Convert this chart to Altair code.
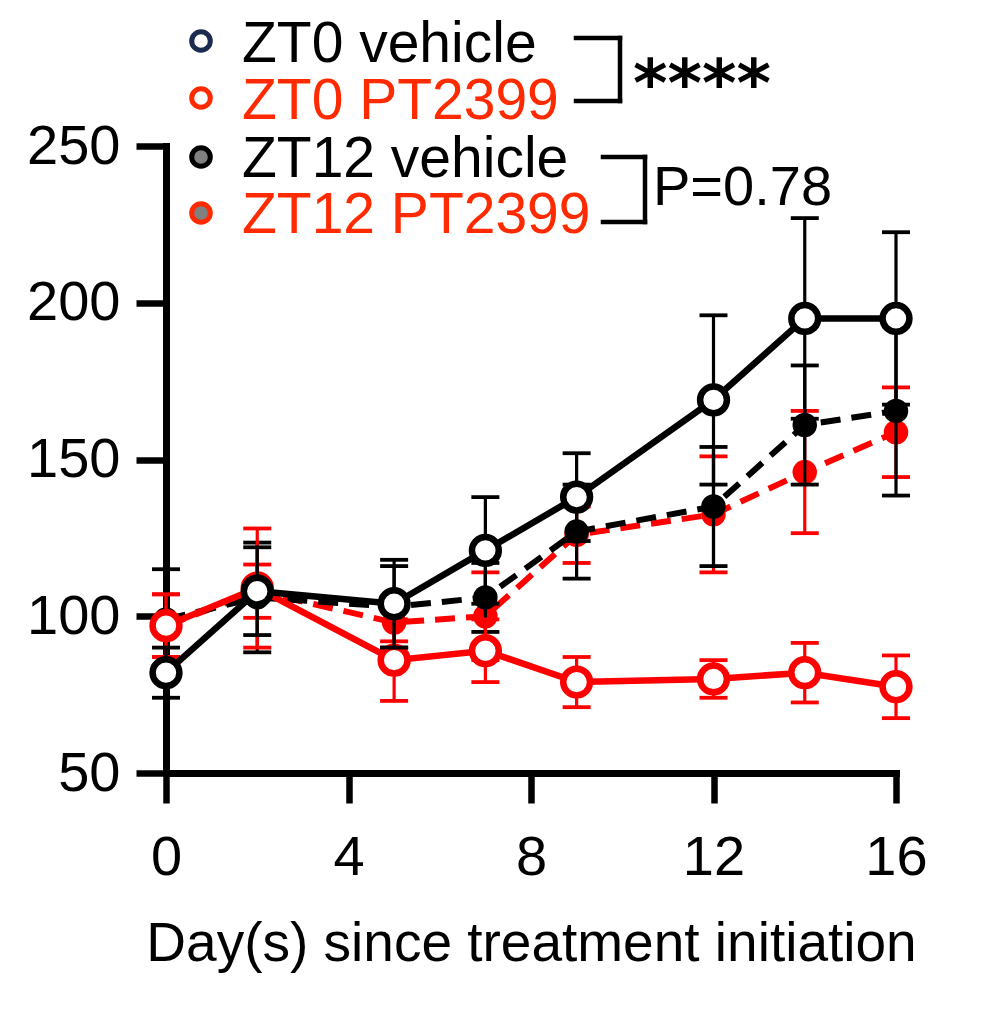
import altair as alt
import pandas as pd

# ---------------- data ----------------
days = [0, 2, 5, 7, 9, 12, 14, 16]

zt0_veh_mean = [82, 108, 104, 121, 138, 169, 195, 195]
zt0_veh_sem = [8, 14, 14, 17, 14, 27, 32, 27.5]

zt0_pt_mean = [97, 109, 86, 89, 79, 80, 82, 77.5]
zt0_pt_sem = [10, 19, 13, 10, 8, 6, 9.5, 10]

zt12_veh_mean = [99, 106, 103, 106, 127, 135, 161, 165.5]
zt12_veh_sem = [16, 17.5, 13, 11, 15, 19, 19, 27]

zt12_pt_mean = [97, 108, 98, 100, 126, 132.5, 146, 158.7]
zt12_pt_sem = [10, 8.5, 6, 14, 9, 18.5, 19.5, 14.3]

legend_labels = ["ZT0 vehicle", "ZT0 PT2399", "ZT12 vehicle", "ZT12 PT2399"]
x_ticks = [0, 4, 8, 12, 16]
y_ticks = [50, 100, 150, 200, 250]
x_title = "Day(s) since treatment initiation"
stat1 = "****"
stat2 = "P=0.78"

RED = "#FF0000"
LEGRED = "#FF2A00"
FONT = "Liberation Sans"


def frame(mean, sem):
    return pd.DataFrame({
        "day": days,
        "mean": mean,
        "lo": [m - s for m, s in zip(mean, sem)],
        "hi": [m + s for m, s in zip(mean, sem)],
    })


xscale = alt.Scale(domain=[0, 16], nice=False, zero=False)
yscale = alt.Scale(domain=[50, 250], nice=False, zero=False)

xaxis = alt.Axis(values=x_ticks, title=x_title, tickSize=30, tickWidth=6.5,
                 domainWidth=7, domainColor="black", tickColor="black",
                 labelFontSize=56, labelFont=FONT, labelColor="black",
                 titleFontSize=55, titleFont=FONT, titleFontWeight="normal",
                 titleColor="black", labelPadding=27, titlePadding=32,
                 grid=False, domainCap="square", labelFlush=False)
yaxis = alt.Axis(values=y_ticks, title="", tickSize=30, tickWidth=6.5,
                 domainWidth=7, domainColor="black", tickColor="black",
                 labelFontSize=56, labelFont=FONT, labelColor="black",
                 labelPadding=16, grid=False, domainCap="square",
                 labelFlush=False)


def X():
    return alt.X("day:Q", scale=xscale, axis=xaxis)


def Y(field):
    return alt.Y(f"{field}:Q", scale=yscale, axis=yaxis)


def series_layers(df, color, dashed, open_marker):
    base = alt.Chart(df)
    err = base.mark_rule(color=color, strokeWidth=3.2).encode(
        x=X(), y=Y("lo"), y2="hi:Q")
    cap_lo = base.mark_tick(color=color, orient="horizontal", size=28,
                            thickness=3.8, opacity=1).encode(x=X(), y=Y("lo"))
    cap_hi = base.mark_tick(color=color, orient="horizontal", size=28,
                            thickness=3.8, opacity=1).encode(x=X(), y=Y("hi"))
    line_kw = dict(color=color, strokeWidth=6.5 if not dashed else 6)
    if dashed:
        line_kw["strokeDash"] = [20, 11]
    line = base.mark_line(**line_kw).encode(x=X(), y=Y("mean"))
    if open_marker:
        pts = base.mark_point(shape="circle", filled=True, fill="white",
                              stroke=color, strokeWidth=6.5, size=720,
                              opacity=1).encode(x=X(), y=Y("mean"))
    else:
        pts = base.mark_point(shape="circle", filled=True, fill=color,
                              strokeWidth=0, size=600,
                              opacity=1).encode(x=X(), y=Y("mean"))
    return [err, cap_lo, cap_hi, line, pts]


layers = []
layers += series_layers(frame(zt12_pt_mean, zt12_pt_sem), RED, True, False)
layers += series_layers(frame(zt12_veh_mean, zt12_veh_sem), "black", True, False)
layers += series_layers(frame(zt0_pt_mean, zt0_pt_sem), RED, False, True)
layers += series_layers(frame(zt0_veh_mean, zt0_veh_sem), "black", False, True)

# ---------------- legend & annotations ----------------
one = pd.DataFrame({"k": [0]})
leg_marker_y = [-105, -48, 11, 67]
leg_text_y = [-84, -27, 31, 87]
leg_text_color = ["black", LEGRED, "black", LEGRED]
leg_stroke = ["#1B2A4E", LEGRED, "black", LEGRED]
leg_fill = ["white", "white", "#808080", "#808080"]

for lab, my, ty, tc, sc, fc in zip(legend_labels, leg_marker_y, leg_text_y,
                                   leg_text_color, leg_stroke, leg_fill):
    layers.append(alt.Chart(one).mark_point(
        shape="circle", filled=True, fill=fc, stroke=sc, strokeWidth=5,
        size=346, opacity=1).encode(x=alt.value(35), y=alt.value(my)))
    layers.append(alt.Chart(one).mark_text(
        text=lab, font=FONT, fontSize=57, color=tc, align="left",
        baseline="alphabetic").encode(x=alt.value(76), y=alt.value(ty)))


def bracket(x0, x1, y0, y1):
    out = []
    for enc in (dict(x=alt.value(x0), x2=alt.value(x1), y=alt.value(y0)),
                dict(x=alt.value(x1), y=alt.value(y0), y2=alt.value(y1)),
                dict(x=alt.value(x0), x2=alt.value(x1), y=alt.value(y1))):
        out.append(alt.Chart(one).mark_rule(
            color="black", strokeWidth=4.5, strokeCap="square").encode(**enc))
    return out


layers += bracket(410, 454, -108, -45)
layers += bracket(437, 479, 11, 76)

layers.append(alt.Chart(one).mark_text(
    text=stat1, font="DejaVu Sans", fontWeight="bold", fontSize=66,
    color="black", align="left", baseline="alphabetic").encode(
    x=alt.value(467), y=alt.value(-40)))
layers.append(alt.Chart(one).mark_text(
    text=stat2, font=FONT, fontSize=56, color="black", align="left",
    baseline="alphabetic").encode(x=alt.value(487), y=alt.value(59)))

chart = alt.layer(*layers).properties(
    width=730, height=627,
    padding={"left": 158, "top": 138, "right": 80, "bottom": 220},
    autosize=alt.AutoSizeParams(type="none"),
    background="white",
).configure_view(strokeWidth=0)

chart.save("out.html", embed_options={"renderer": "svg", "actions": False})
